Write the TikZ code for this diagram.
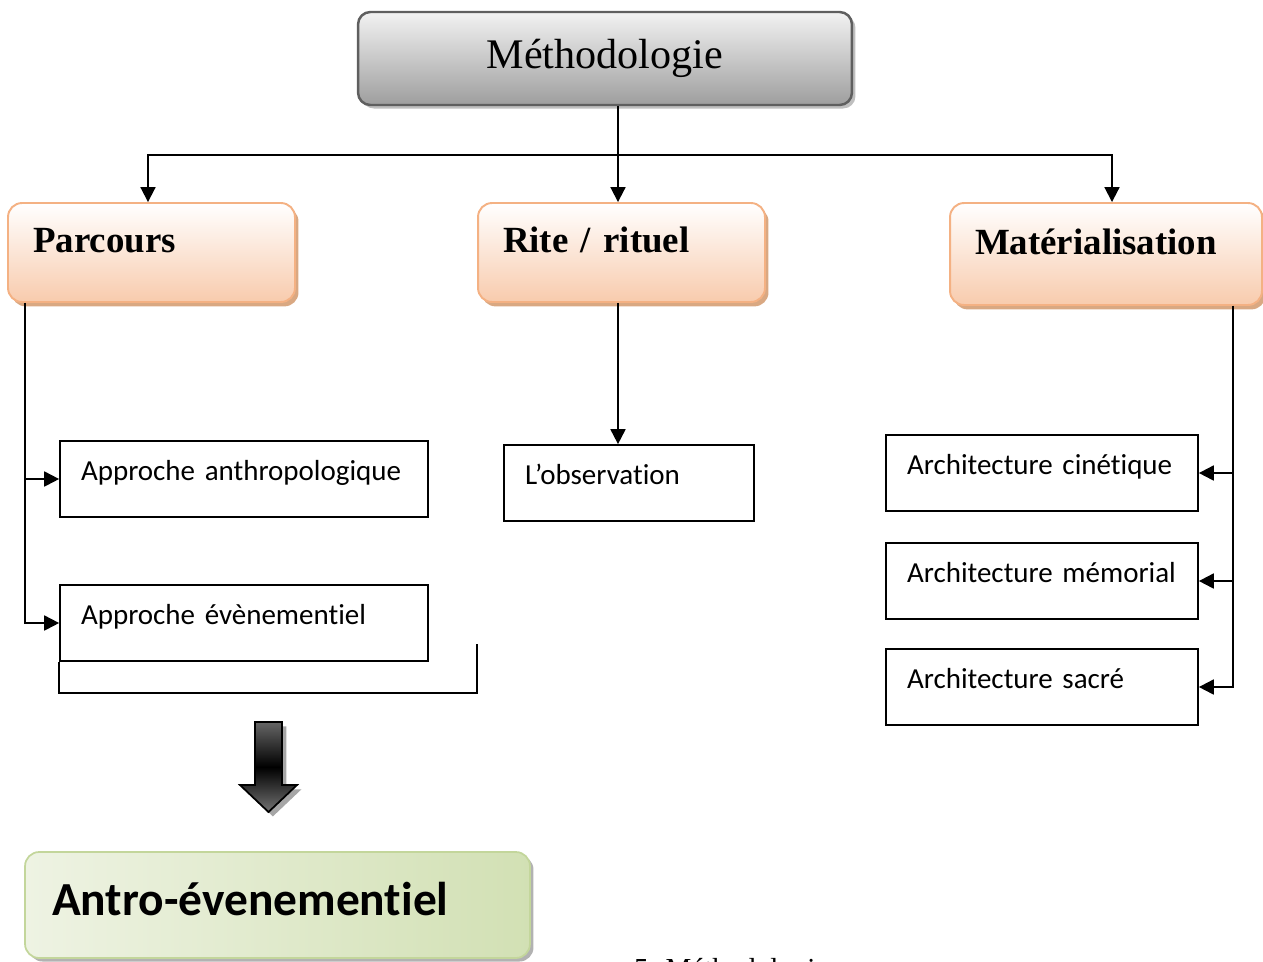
\documentclass[tikz,border=0pt]{standalone}
\usepackage{fontspec}
\setmainfont{Liberation Serif}
\newfontfamily\calibri[Ligatures={NoCommon}]{Carlito}
\usetikzlibrary{arrows.meta,shadows}
\definecolor{peach}{HTML}{F8CBAD}
\definecolor{peachline}{HTML}{F4B183}
\definecolor{peachshadow}{HTML}{D9A882}
\definecolor{leaf}{HTML}{C3D69B}
\definecolor{leaflight}{HTML}{EEF3E3}
\definecolor{titleline}{HTML}{5F5F5F}
\begin{document}
\begin{tikzpicture}[x=0.02cm,y=-0.02cm,>={Triangle[length=8.5pt,width=8.5pt]},
	titlebox/.style={draw=titleline,line width=1.4pt,rounded corners=7pt,top color=white!95!black,bottom color=black!38,
		minimum width=9.88cm,minimum height=1.86cm,font=\fontsize{24}{28}\selectfont,
		drop shadow={shadow xshift=2pt,shadow yshift=-2pt,fill=black!25,opacity=1}},
	orangebox/.style={draw=peachline,line width=1.1pt,rounded corners=8pt,top color=white,bottom color=peach,
		inner xsep=0.5cm,text width=#1,align=left,minimum height=1.98cm,text height=0.45cm,text depth=0.45cm,
		font=\bfseries\fontsize{21}{24}\selectfont,
		drop shadow={shadow xshift=2pt,shadow yshift=-2.5pt,fill=peachshadow,opacity=1}},
	whitebox/.style={draw,line width=1pt,inner xsep=0.42cm,text width=#1,align=left,minimum height=1.52cm,
		text height=0.34cm,text depth=0.28cm,font=\calibri\fontsize{16.5}{20}\selectfont},
	greenbox/.style={draw=leaf,line width=1pt,rounded corners=8pt,left color=leaflight,right color=leaf!75!white,
		inner xsep=0.54cm,text width=9.02cm,align=left,minimum height=2.12cm,text height=0.7cm,text depth=0.3cm,
		font=\calibri\bfseries\fontsize{27}{30}\selectfont,
		drop shadow={shadow xshift=2pt,shadow yshift=-2pt,fill=black!30,opacity=1}},
	link/.style={line width=1.1pt}]
	\useasboundingbox (0,0) rectangle (1263,961);
	\node[titlebox] (meth) at (605,58.5) {Méthodologie\hspace{0.25cm}};
	\node[orangebox=4.74cm] (parc) at (151.5,252.5) {Parcours};
	\node[orangebox=4.74cm] (rite) at (621.5,252.5) {Rite / rituel};
	\node[orangebox=5.24cm,minimum height=2.04cm] (mat) at (1106,254) {Matérialisation};
	\node[whitebox=6.52cm] (anth) at (244,479) {Approche anthropologique};
	\node[whitebox=6.52cm] (even) at (244,623) {Approche évènementiel};
	\node[whitebox=4.16cm] (obs) at (629,483) {L’observation};
	\node[whitebox=5.40cm] (cin) at (1042,473) {Architecture cinétique};
	\node[whitebox=5.40cm] (mem) at (1042,581) {Architecture mémorial};
	\node[whitebox=5.40cm] (sac) at (1042,687) {Architecture sacré};
	\node[greenbox] (antro) at (277.5,905) {Antro-évenementiel};
	\node[anchor=base west,font=\fontsize{16.5}{18}\selectfont] (caption) at (628,978) {5- Méthodologie};
	\coordinate (split) at (618,155);
	\draw[link] (meth.south -| split) -- (split);
	\draw[link,->] (split) -| ([xshift=-0.07cm]parc.north);
	\draw[link,->] (split) -| ([xshift=0.12cm]mat.north);
	\draw[link,->] (split) -- (split |- rite.north);
	\draw[link,->] (rite.south -| split) -- (split |- obs.north);
	\draw[link,->] ([xshift=0.36cm]parc.south west) |- (anth.west);
	\draw[link,->] ([xshift=0.36cm]parc.south west) |- (even.west);
	\draw[link,->] ([xshift=-0.6cm]mat.south east) |- (cin.east);
	\draw[link,->] ([xshift=-0.6cm]mat.south east) |- (mem.east);
	\draw[link,->] ([xshift=-0.6cm]mat.south east) |- (sac.east);
	\draw[line width=1pt] (even.south west) -- ++(0,31) -| ++(418,-49);
	\draw[line width=1pt,top color=black!60,bottom color=black!55,middle color=black,
		drop shadow={shadow xshift=2.5pt,shadow yshift=-2.5pt,fill=black!35,opacity=1}]
		(255,722) -- (282,722) -- (282,785) -- (297,785) -- (268.5,812) -- (240,785) -- (255,785) -- cycle;
\end{tikzpicture}
\end{document}
